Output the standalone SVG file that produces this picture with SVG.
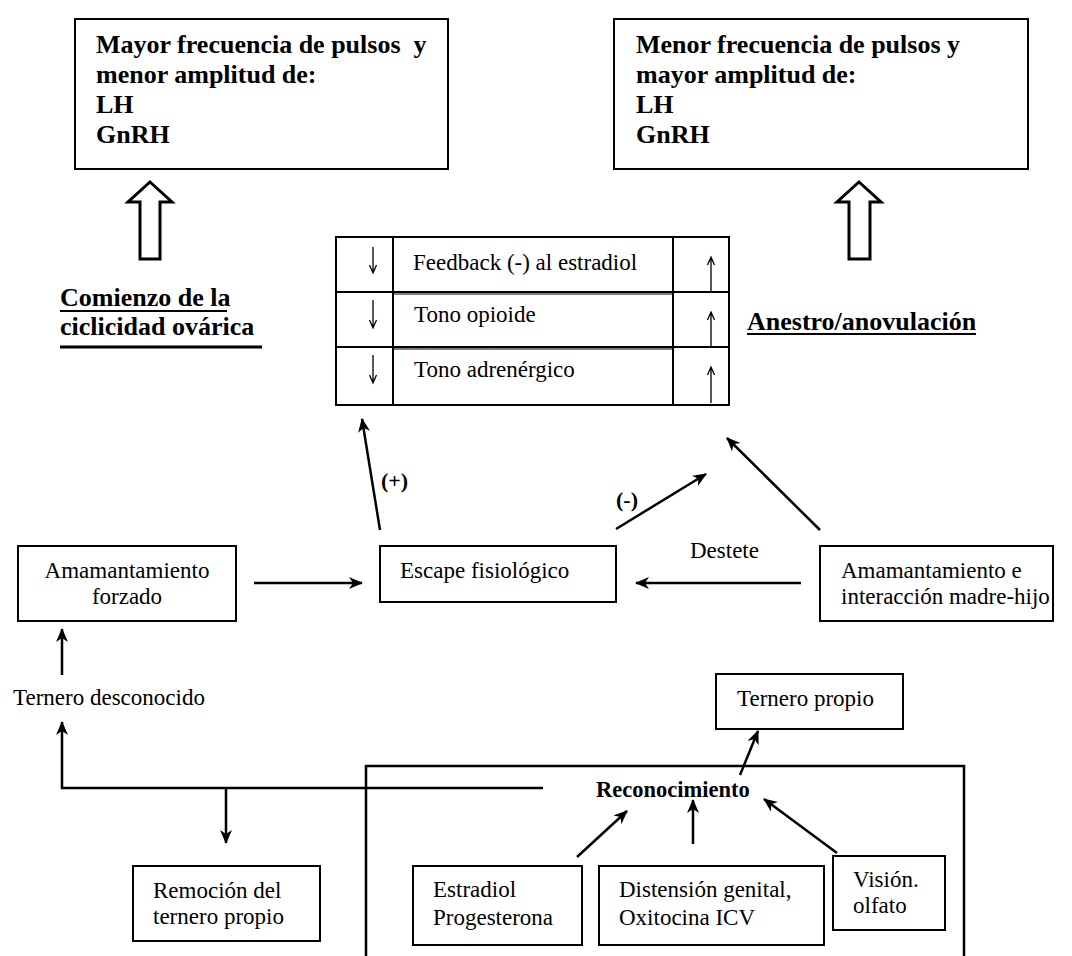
<svg xmlns="http://www.w3.org/2000/svg" width="1072" height="956" viewBox="0 0 1072 956">
<style>
text{font-family:"Liberation Serif","Times New Roman",serif;fill:#000;}
.b{font-weight:bold;font-size:26px;white-space:pre;}
.r{font-size:23px;}
.bs{font-weight:bold;font-size:22px;}
.box{fill:#fff;stroke:#000;stroke-width:2;}
.ln{fill:none;stroke:#000;stroke-width:2.5;}
.thin{fill:none;stroke:#000;stroke-width:1.3;}
.hollow{fill:#fff;stroke:#000;stroke-width:3;stroke-linejoin:miter;}
</style>
<defs>
<marker id="ah" viewBox="0 0 14 12" refX="13" refY="6" markerWidth="14" markerHeight="12" markerUnits="userSpaceOnUse" orient="auto">
<path d="M0,0 L14,6 L0,12 L4,6 Z" fill="#000"/>
</marker>
</defs>
<rect width="1072" height="956" fill="#fff"/>

<g id="box-mayor">
<rect class="box" x="75" y="19" width="373" height="150"/>
<text class="b" x="96" y="53">Mayor frecuencia de pulsos  y</text>
<text class="b" x="96" y="83">menor amplitud de:</text>
<text class="b" x="96" y="113">LH</text>
<text class="b" x="96" y="143">GnRH</text>
</g>
<g id="box-menor">
<rect class="box" x="614" y="19" width="414" height="150"/>
<text class="b" x="636" y="53">Menor frecuencia de pulsos y</text>
<text class="b" x="636" y="83">mayor amplitud de:</text>
<text class="b" x="636" y="113">LH</text>
<text class="b" x="636" y="143">GnRH</text>
</g>

<g id="hollow-arrows">
<path class="hollow" d="M150,182 L172,202 L160,202 L160,259 L140,259 L140,202 L128,202 Z"/>
<path class="hollow" d="M859,182 L881,202 L870,202 L870,259 L849,259 L849,202 L837,202 Z"/>
</g>

<g id="label-comienzo">
<text class="b" x="60" y="306">Comienzo de la</text>
<line x1="60" y1="311" x2="227" y2="311" stroke="#000" stroke-width="2"/>
<text class="b" x="60" y="335">ciclicidad ovárica</text>
<line x1="60" y1="347" x2="262" y2="347" stroke="#000" stroke-width="3"/>
</g>
<g id="label-anestro">
<text class="b" x="747" y="330">Anestro/anovulación</text>
<line x1="747" y1="334" x2="976" y2="334" stroke="#000" stroke-width="2"/>
</g>

<g id="table">
<rect class="box" x="336" y="237" width="393" height="168"/>
<line x1="393" y1="237" x2="393" y2="405" stroke="#000" stroke-width="2"/>
<line x1="673" y1="237" x2="673" y2="405" stroke="#000" stroke-width="2"/>
<line x1="336" y1="292" x2="729" y2="292" stroke="#000" stroke-width="2"/>
<line x1="393" y1="294" x2="673" y2="294" stroke="#000" stroke-width="1"/>
<line x1="336" y1="347" x2="729" y2="347" stroke="#000" stroke-width="2"/>
<line x1="393" y1="349" x2="673" y2="349" stroke="#000" stroke-width="1"/>
<text class="r" x="413" y="270">Feedback (-) al estradiol</text>
<text class="r" x="414" y="322">Tono opioide</text>
<text class="r" x="414" y="377">Tono adrenérgico</text>
<path class="thin" d="M373,247 V273 M369.5,265 L373,273 L376.5,265"/>
<path class="thin" d="M373,300 V328 M369.5,320 L373,328 L376.5,320"/>
<path class="thin" d="M373,355 V383 M369.5,375 L373,383 L376.5,375"/>
<path class="thin" d="M711,292 V257 M707.5,265 L711,257 L714.5,265"/>
<path class="thin" d="M711,347 V312 M707.5,320 L711,312 L714.5,320"/>
<path class="thin" d="M711,403 V367 M707.5,375 L711,367 L714.5,375"/>
</g>

<g id="node-amamantamiento-forzado">
<rect class="box" x="18" y="546" width="218" height="75"/>
<text class="r" x="127" y="578" text-anchor="middle">Amamantamiento</text>
<text class="r" x="127" y="604" text-anchor="middle">forzado</text>
</g>
<g id="node-escape">
<rect class="box" x="380" y="546" width="236" height="56"/>
<text class="r" x="400" y="578">Escape fisiológico</text>
</g>
<g id="node-madre-hijo">
<rect class="box" x="820" y="546" width="233" height="75"/>
<text class="r" x="841" y="578">Amamantamiento e</text>
<text class="r" x="841" y="604">interacción madre-hijo</text>
</g>

<g id="node-ternero-desconocido">
<text class="r" x="13" y="705">Ternero desconocido</text>
</g>
<g id="node-remocion">
<rect class="box" x="133" y="866" width="187" height="75"/>
<text class="r" x="153" y="898">Remoción del</text>
<text class="r" x="153" y="924">ternero propio</text>
</g>
<g id="node-ternero-propio">
<rect class="box" x="716" y="674" width="187" height="55"/>
<text class="r" x="737" y="706">Ternero propio</text>
</g>
<g id="frame-reconocimiento">
<path d="M366,960 V766 H964 V960" fill="none" stroke="#000" stroke-width="2.5"/>
</g>
<g id="node-reconocimiento">
<text class="bs" x="596" y="797" style="font-size:22.5px">Reconocimiento</text>
</g>
<g id="node-estradiol">
<rect class="box" x="413" y="866" width="169" height="79"/>
<text class="r" x="433" y="897">Estradiol</text>
<text class="r" x="433" y="925">Progesterona</text>
</g>
<g id="node-distension">
<rect class="box" x="599" y="866" width="225" height="79"/>
<text class="r" x="619" y="897">Distensión genital,</text>
<text class="r" x="619" y="925">Oxitocina ICV</text>
</g>
<g id="node-vision">
<rect class="box" x="833" y="856" width="112" height="74"/>
<text class="r" x="853" y="887">Visión.</text>
<text class="r" x="853" y="913">olfato</text>
</g>

<g id="connectors">
<line class="ln" x1="254" y1="583" x2="362" y2="583" marker-end="url(#ah)"/>
<line class="ln" x1="380" y1="530" x2="362" y2="419" marker-end="url(#ah)"/>
<text class="bs" x="381" y="488">(+)</text>
<line class="ln" x1="616" y1="529" x2="706" y2="474" marker-end="url(#ah)"/>
<text class="bs" x="616" y="507">(-)</text>
<line class="ln" x1="820" y1="530" x2="727" y2="438" marker-end="url(#ah)"/>
<line class="ln" x1="801" y1="583" x2="636" y2="583" marker-end="url(#ah)"/>
<text class="r" x="690" y="558">Destete</text>
<line class="ln" x1="62" y1="675" x2="62" y2="629" marker-end="url(#ah)"/>
<path class="ln" d="M543,788 H62 V722" marker-end="url(#ah)"/>
<line class="ln" x1="226" y1="788" x2="226" y2="843" marker-end="url(#ah)"/>
<line class="ln" x1="740" y1="775" x2="758" y2="731" marker-end="url(#ah)"/>
<line class="ln" x1="577" y1="857" x2="627" y2="811" marker-end="url(#ah)"/>
<line class="ln" x1="693" y1="844" x2="693" y2="800" marker-end="url(#ah)"/>
<line class="ln" x1="837" y1="853" x2="764" y2="799" marker-end="url(#ah)"/>
</g>
</svg>
